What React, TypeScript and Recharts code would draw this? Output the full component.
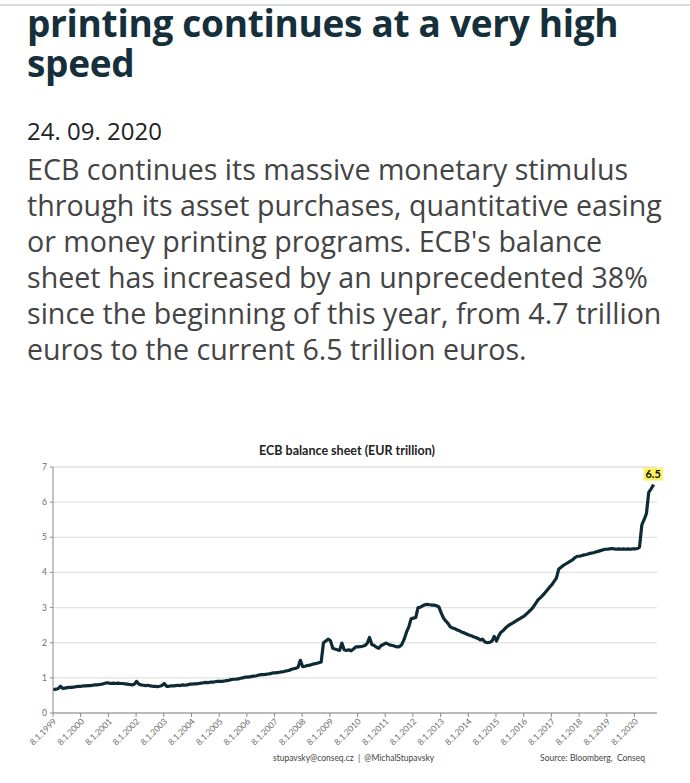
import React from "react";
import { LineChart, Line, XAxis, YAxis, CartesianGrid } from "recharts";

// ECB balance sheet, EUR trillion, one value per month (Jan..Dec), 1999..2020
const years = [1999, 2000, 2001, 2002, 2003, 2004, 2005, 2006, 2007, 2008, 2009, 2010, 2011, 2012, 2013, 2014, 2015, 2016, 2017, 2018, 2019, 2020];
const monthlyBalance: number[][] = [
  [0.66, 0.68, 0.69, 0.76, 0.70, 0.71, 0.72, 0.73, 0.73, 0.74, 0.75, 0.76],
  [0.76, 0.77, 0.77, 0.78, 0.78, 0.79, 0.80, 0.80, 0.81, 0.82, 0.84, 0.86],
  [0.85, 0.84, 0.85, 0.84, 0.85, 0.84, 0.84, 0.83, 0.82, 0.81, 0.80, 0.82],
  [0.90, 0.82, 0.80, 0.79, 0.78, 0.79, 0.77, 0.76, 0.76, 0.75, 0.76, 0.78],
  [0.84, 0.76, 0.76, 0.77, 0.77, 0.78, 0.79, 0.78, 0.80, 0.79, 0.80, 0.82],
  [0.82, 0.83, 0.83, 0.84, 0.85, 0.86, 0.87, 0.86, 0.88, 0.88, 0.89, 0.90],
  [0.90, 0.90, 0.91, 0.92, 0.93, 0.95, 0.96, 0.96, 0.97, 0.99, 1.00, 1.02],
  [1.02, 1.03, 1.04, 1.05, 1.06, 1.08, 1.09, 1.09, 1.10, 1.11, 1.12, 1.14],
  [1.14, 1.15, 1.16, 1.17, 1.18, 1.20, 1.21, 1.24, 1.26, 1.27, 1.30, 1.50],
  [1.32, 1.33, 1.35, 1.36, 1.38, 1.40, 1.41, 1.43, 1.45, 2.00, 2.05, 2.10],
  [2.06, 1.84, 1.82, 1.80, 1.78, 1.99, 1.80, 1.78, 1.80, 1.77, 1.82, 1.88],
  [1.88, 1.89, 1.90, 1.92, 1.98, 2.15, 1.95, 1.92, 1.87, 1.84, 1.92, 1.95],
  [1.99, 1.96, 1.93, 1.92, 1.90, 1.88, 1.89, 1.95, 2.10, 2.30, 2.45, 2.68],
  [2.70, 2.72, 3.00, 3.01, 3.05, 3.08, 3.09, 3.08, 3.07, 3.07, 3.05, 3.02],
  [2.85, 2.70, 2.62, 2.55, 2.45, 2.42, 2.40, 2.36, 2.34, 2.30, 2.28, 2.25],
  [2.22, 2.20, 2.17, 2.15, 2.12, 2.08, 2.10, 2.02, 2.00, 2.01, 2.04, 2.18],
  [2.05, 2.20, 2.30, 2.35, 2.42, 2.48, 2.52, 2.56, 2.60, 2.64, 2.68, 2.72],
  [2.76, 2.82, 2.88, 2.94, 3.02, 3.12, 3.22, 3.28, 3.35, 3.42, 3.50, 3.58],
  [3.65, 3.75, 3.84, 4.10, 4.15, 4.20, 4.24, 4.28, 4.32, 4.36, 4.42, 4.46],
  [4.46, 4.48, 4.50, 4.51, 4.53, 4.55, 4.56, 4.58, 4.60, 4.62, 4.64, 4.66],
  [4.66, 4.67, 4.68, 4.67, 4.66, 4.67, 4.66, 4.67, 4.66, 4.67, 4.66, 4.67],
  [4.67, 4.68, 4.72, 5.35, 5.50, 5.68, 6.28, 6.38, 6.50],
];
const firstDate = Date.UTC(1999, 0, 8);
const lastDate = Date.UTC(2020, 8, 18);
const domainEnd = Date.UTC(2020, 10, 1);
const yTicks = [0, 1, 2, 3, 4, 5, 6, 7];
const xTicks = years.map((y) => Date.UTC(y, 0, 8));
const lastLabel = "6.5";

const data: { t: number; v: number }[] = [];
monthlyBalance.forEach((row, i) => {
  row.forEach((v, m) => {
    let t = Date.UTC(years[i], m, 15);
    if (i === 0 && m === 0) t = firstDate;
    if (i === monthlyBalance.length - 1 && m === row.length - 1) t = lastDate;
    data.push({ t, v });
  });
});

const XTick = (props: any) => {
  const { x, y, payload } = props;
  const yr = new Date(payload.value).getUTCFullYear();
  const ax = x + 4;
  const ay = y + 3;
  return (
    <text
      x={ax}
      y={ay}
      transform={`rotate(-45 ${ax} ${ay})`}
      textAnchor="end"
      fontSize={8.5}
      fill="#6a6a6a"
      fontFamily="Lato, sans-serif"
    >
      {`8.1.${yr}`}
    </text>
  );
};

const EndLabel = (props: any) => {
  const { x, y, index } = props;
  if (index !== data.length - 1) return <g key={`l${index}`} />;
  return (
    <g key="end">
      <rect x={x - 10} y={y - 17} width={19} height={13} fill="#fbf35e" />
      <text
        x={x - 0.5}
        y={y - 6.5}
        textAnchor="middle"
        fontSize={11}
        fontWeight={700}
        fill="#111"
        fontFamily="Lato, sans-serif"
      >
        {lastLabel}
      </text>
    </g>
  );
};

export default function App() {
  return (
    <div
      style={{
        position: "absolute",
        left: 0,
        top: 0,
        width: 690,
        height: 783,
        background: "#fff",
        overflow: "hidden",
      }}
    >
      <div style={{ position: "absolute", left: 0, top: 4, width: 690, height: 2, background: "#dcdcdc" }} />
      <div
        style={{
          position: "absolute",
          left: 27,
          top: 3,
          width: 660,
          fontFamily: "'Open Sans', sans-serif",
          fontWeight: 700,
          fontSize: 37,
          lineHeight: "40px",
          color: "#152f3b",
          letterSpacing: -0.3,
          whiteSpace: "nowrap",
        }}
      >
        printing continues at a very high
        <br />
        speed
      </div>
      <div
        style={{
          position: "absolute",
          left: 27,
          top: 114,
          fontFamily: "'Open Sans', sans-serif",
          fontSize: 24,
          lineHeight: "34px",
          color: "#222",
        }}
      >
        24. 09. 2020
      </div>
      <div
        style={{
          position: "absolute",
          left: 27,
          top: 151,
          width: 660,
          fontFamily: "'Open Sans', sans-serif",
          fontSize: 28.6,
          lineHeight: "36px",
          color: "#444",
          whiteSpace: "nowrap",
        }}
      >
        ECB continues its massive monetary stimulus
        <br />
        through its asset purchases, quantitative easing
        <br />
        or money printing programs. ECB's balance
        <br />
        sheet has increased by an unprecedented 38%
        <br />
        since the beginning of this year, from 4.7 trillion
        <br />
        euros to the current 6.5 trillion euros.
      </div>

      <div
        style={{
          position: "absolute",
          left: 0,
          width: 694,
          top: 443,
          textAlign: "center",
          fontFamily: "Lato, sans-serif",
          fontWeight: 700,
          fontSize: 12.5,
          color: "#222",
        }}
      >
        ECB balance sheet (EUR trillion)
      </div>

      <div style={{ position: "absolute", left: 0, top: 420 }}>
        <LineChart
          width={690}
          height={363}
          data={data}
          margin={{ top: 47, right: 33, left: 0, bottom: 0 }}
        >
          <CartesianGrid vertical={false} stroke="#e2e2e2" strokeWidth={1.3} />
          <XAxis
            dataKey="t"
            type="number"
            domain={[firstDate, domainEnd]}
            ticks={xTicks}
            tick={<XTick />}
            tickSize={4}
            tickMargin={2}
            height={70}
            interval={0}
            stroke="#8a8a8a"
            allowDataOverflow
          />
          <YAxis
            domain={[0, 7]}
            ticks={yTicks}
            width={53}
            tickSize={3}
            tickMargin={3}
            stroke="#8a8a8a"
            tick={{ fontSize: 8.5, fill: "#6a6a6a", fontFamily: "Lato, sans-serif" }}
            interval={0}
          />
          <Line
            type="linear"
            dataKey="v"
            stroke="#0e2a35"
            strokeWidth={3.2}
            dot={false}
            strokeLinejoin="round"
            isAnimationActive={false}
            label={<EndLabel />}
          />
        </LineChart>
      </div>

      <div
        style={{
          position: "absolute",
          left: 273,
          top: 753,
          fontFamily: "Lato, sans-serif",
          fontSize: 8.5,
          color: "#444",
          whiteSpace: "pre",
        }}
      >
        {"stupavsky@conseq.cz  |  @MichalStupavsky"}
      </div>
      <div
        style={{
          position: "absolute",
          right: 45,
          top: 753,
          fontFamily: "Lato, sans-serif",
          fontSize: 8.5,
          color: "#444",
          whiteSpace: "pre",
        }}
      >
        {"Source: Bloomberg,  Conseq"}
      </div>
    </div>
  );
}
